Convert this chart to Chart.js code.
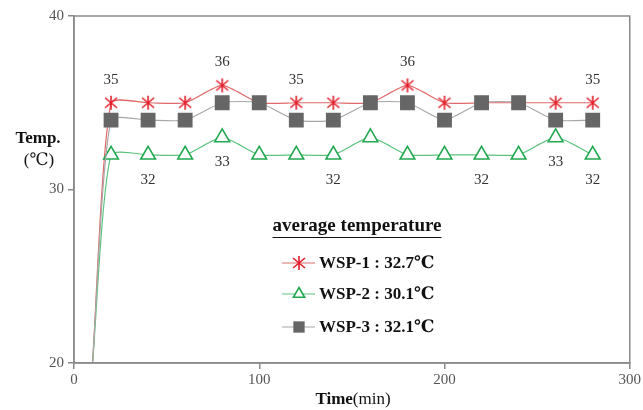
<!DOCTYPE html>
<html>
<head>
<meta charset="utf-8">
<script src="https://cdn.jsdelivr.net/npm/chart.js@4/dist/chart.umd.min.js"></script>
<style>
  html, body { margin: 0; padding: 0; background: #fff; }
  #wrap { width: 643px; height: 410px; }
</style>
</head>
<body>
<div id="wrap"><canvas id="chart"></canvas></div>
<script>
// time (min); first point is the start of the run, drawn without a marker
const times = [10, 20, 40, 60, 80, 100, 120, 140, 160, 180, 200, 220, 240, 260, 280];
const wsp1 = [20, 35, 35, 35, 36, 35, 35, 35, 35, 36, 35, 35, 35, 35, 35];
const wsp2 = [20, 32, 32, 32, 33, 32, 32, 32, 33, 32, 32, 32, 32, 33, 32];
const wsp3 = [20, 34, 34, 34, 35, 35, 34, 34, 35, 35, 34, 35, 35, 34, 34];
const seriesNames = ['WSP-1 : 32.7\u2103', 'WSP-2 : 30.1\u2103', 'WSP-3 : 32.1\u2103'];
const legendTitle = 'average temperature';
// which points get a value label (index into the arrays)
const wsp1Labels = [1, 4, 6, 9, 14];
const wsp2Labels = [2, 4, 7, 11, 13, 14];
const xTicks = [0, 100, 200, 300];
const yTicks = [20, 30, 40];

const SERIF = '"Liberation Serif", "DejaVu Serif", serif';

// excel style asterisk marker
function asterisk(color) {
  const c = document.createElement('canvas');
  c.width = 16; c.height = 16;
  const g = c.getContext('2d');
  g.strokeStyle = color;
  g.lineWidth = 1.6;
  g.beginPath();
  g.moveTo(8, 1); g.lineTo(8, 15);
  g.moveTo(2, 3); g.lineTo(14, 13);
  g.moveTo(14, 3); g.lineTo(2, 13);
  g.stroke();
  return c;
}
const star = asterisk('#e3202c');

const toPoints = (ys) => ys.map((y, i) => ({ x: times[i], y: y }));
const firstHidden = (r) => (ctx) => ctx.dataIndex === 0 ? 0 : r;

const frame = {
  id: 'frame',
  afterDraw(chart) {
    const { ctx, chartArea: a } = chart;
    ctx.save();
    ctx.strokeStyle = '#8a8a8a';
    ctx.lineWidth = 1.5;
    ctx.strokeRect(a.left, a.top, a.right - a.left, a.bottom - a.top);

    // value labels
    ctx.font = '15px ' + SERIF;
    ctx.fillStyle = '#333';
    ctx.textAlign = 'center';
    ctx.textBaseline = 'middle';
    const m1 = chart.getDatasetMeta(0).data;
    wsp1Labels.forEach(i => ctx.fillText(String(wsp1[i]), m1[i].x, m1[i].y - 23));
    const m2 = chart.getDatasetMeta(1).data;
    wsp2Labels.forEach(i => ctx.fillText(String(wsp2[i]), m2[i].x, m2[i].y + 25));

    // axis titles
    ctx.fillStyle = '#111';
    ctx.font = 'bold 17px ' + SERIF;
    ctx.fillText('Temp.', 38, 139);
    ctx.font = '17px ' + SERIF;
    ctx.fillText('(\u2103)', 39, 161);

    ctx.textAlign = 'left';
    ctx.font = 'bold 17px ' + SERIF;
    const tw = ctx.measureText('Time').width;
    ctx.font = '17px ' + SERIF;
    const mw = ctx.measureText('(min)').width;
    const tx = 353 - (tw + mw) / 2;
    ctx.font = 'bold 17px ' + SERIF;
    ctx.fillText('Time', tx, 400);
    ctx.font = '17px ' + SERIF;
    ctx.fillText('(min)', tx + tw, 400);

    // legend inside the plot
    ctx.font = 'bold 19px ' + SERIF;
    ctx.textAlign = 'center';
    ctx.fillText(legendTitle, 357, 226);
    const lw = ctx.measureText(legendTitle).width;
    ctx.strokeStyle = '#111';
    ctx.lineWidth = 1;
    ctx.beginPath();
    ctx.moveTo(357 - lw / 2, 237.5);
    ctx.lineTo(357 + lw / 2, 237.5);
    ctx.stroke();

    const rows = [263, 294, 327];
    ctx.textAlign = 'left';
    ctx.font = 'bold 17px ' + SERIF;
    chart.data.datasets.forEach((ds, k) => {
      const y = rows[k];
      ctx.strokeStyle = ds.borderColor;
      ctx.lineWidth = 1.2;
      ctx.beginPath();
      ctx.moveTo(282, y);
      ctx.lineTo(315, y);
      ctx.stroke();
      ctx.strokeStyle = ds.pointBorderColor || ds.borderColor;
      ctx.fillStyle = ds.pointBackgroundColor || '#fff';
      ctx.lineWidth = ds.pointBorderWidth || 1;
      Chart.helpers.drawPoint(ctx, {
        pointStyle: ds.pointStyle,
        radius: ds.legendRadius,
        borderWidth: ds.pointBorderWidth
      }, 299, y);
      ctx.fillStyle = '#111';
      ctx.fillText(seriesNames[k], 319, y + 1);
    });
    ctx.restore();
  }
};

new Chart(document.getElementById('chart'), {
  type: 'line',
  data: {
    datasets: [
      {
        label: seriesNames[0],
        data: toPoints(wsp1),
        borderColor: '#e06a6a',
        borderWidth: 1.2,
        pointStyle: star,
        pointRadius: firstHidden(8),
        legendRadius: 8,
        tension: 0.2,
        order: 2
      },
      {
        label: seriesNames[1],
        data: toPoints(wsp2),
        borderColor: '#5cc47e',
        borderWidth: 1.2,
        pointStyle: 'triangle',
        pointRadius: firstHidden(8.5),
        legendRadius: 6.5,
        pointBorderColor: '#22a850',
        pointBackgroundColor: '#fff',
        pointBorderWidth: 1.6,
        tension: 0.2,
        order: 1
      },
      {
        label: seriesNames[2],
        data: toPoints(wsp3),
        borderColor: '#a8a8a8',
        borderWidth: 1.2,
        pointStyle: 'rect',
        pointRadius: firstHidden(10.5),
        legendRadius: 8,
        pointBorderColor: '#666',
        pointBackgroundColor: '#666',
        pointBorderWidth: 0,
        tension: 0.2,
        order: 0
      }
    ]
  },
  options: {
    responsive: true,
    maintainAspectRatio: false,
    animation: false,
    events: [],
    layout: { padding: { left: 44, right: 12, top: 16, bottom: 12 } },
    plugins: { legend: { display: false }, tooltip: { enabled: false } },
    scales: {
      x: {
        type: 'linear',
        min: 0,
        max: 300,
        afterBuildTicks: (s) => { s.ticks = xTicks.map(v => ({ value: v })); },
        afterFit: (s) => { s.height = 35; },
        grid: { drawOnChartArea: false, tickLength: 6, color: '#8a8a8a', lineWidth: 1.5 },
        border: { color: '#8a8a8a', width: 1.5 },
        ticks: { color: '#555', font: { family: SERIF, size: 15 }, padding: 2, maxRotation: 0 }
      },
      y: {
        min: 20,
        max: 40,
        afterBuildTicks: (s) => { s.ticks = yTicks.map(v => ({ value: v })); },
        afterFit: (s) => { s.width = 30; },
        grid: { drawOnChartArea: false, tickLength: 6, color: '#8a8a8a', lineWidth: 1.5 },
        border: { color: '#8a8a8a', width: 1.5 },
        ticks: { color: '#555', font: { family: SERIF, size: 15 }, padding: 4 }
      }
    }
  },
  plugins: [frame]
});
</script>
</body>
</html>
